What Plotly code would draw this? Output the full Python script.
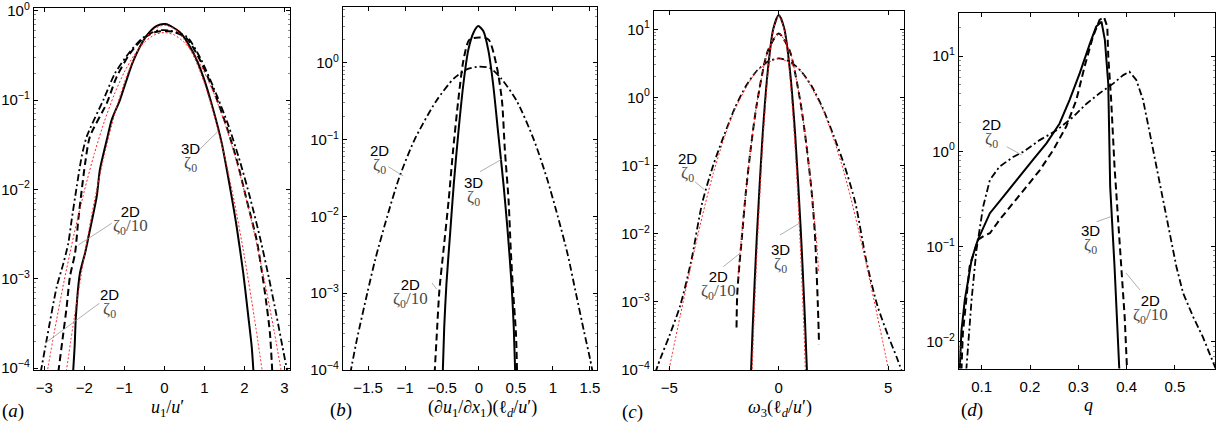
import plotly.graph_objects as go

W, H = 1217, 432

# ---------------- data ----------------
# panel (a): PDF of u1/u'
a_x_3d = [-2.28, -2.24, -2.21, -2.11, -1.98, -1.86, -1.69, -1.61, -1.44, -1.315, -1.11, -0.775, -0.44, -0.19, 0.03,
          0.39, 0.725, 0.975, 1.225, 1.435, 1.64, 1.81, 1.975, 2.10, 2.185, 2.23]
a_y_3d = [9.0e-5, 1.8e-4, 3.8e-4, 1.15e-3, 1.95e-3, 3.5e-3, 8.3e-3, 1.66e-2, 3.55e-2, 6.0e-2, 0.100, 0.275, 0.525, 0.676, 0.708,
          0.575, 0.339, 0.182, 7.76e-2, 3.31e-2, 1.07e-2, 3.8e-3, 1.15e-3, 3.8e-4, 1.74e-4, 9.0e-5]
a_x_2d10 = [-2.65, -2.525, -2.44, -2.36, -2.23, -2.15, -2.065, -1.98, -1.86, -1.44, -1.19, -0.86, -0.525, -0.19, 0.225,
            0.56, 0.89, 1.225, 1.56, 1.81, 2.06, 2.31, 2.45, 2.56, 2.64, 2.70]
a_y_2d10 = [9.0e-5, 2.45e-4, 4.9e-4, 1.05e-3, 1.95e-3, 4.6e-3, 9.8e-3, 1.95e-2, 3.9e-2, 9.2e-2, 0.182, 0.331, 0.490, 0.582, 0.582,
            0.490, 0.282, 0.130, 5.0e-2, 2.14e-2, 7.6e-3, 2.7e-3, 1.12e-3, 5.0e-4, 2.5e-4, 9.0e-5]
a_x_2d = [-3.09, -2.94, -2.69, -2.525, -2.40, -2.315, -2.19, -2.065, -1.94, -1.525, -1.23, -0.86, -0.525, -0.19, 0.10,
          0.56, 0.90, 1.25, 1.60, 1.90, 2.15, 2.40, 2.62, 2.80, 2.95, 3.08]
a_y_2d = [9.0e-5, 2.1e-4, 8.1e-4, 1.48e-3, 2.5e-3, 4.6e-3, 1.07e-2, 2.34e-2, 3.9e-2, 0.100, 0.200, 0.347, 0.501, 0.596, 0.603,
          0.513, 0.295, 0.132, 5.25e-2, 2.0e-2, 7.9e-3, 2.8e-3, 1.0e-3, 4.0e-4, 1.78e-4, 9.0e-5]
a_x_fit1 = [-2.45, -2.25, -2.0, -1.75, -1.5, -1.25, -1.0, -0.75, -0.5, -0.25, 0.0, 0.25, 0.5, 0.75, 1.0, 1.25, 1.5, 1.75,
            2.0, 2.25, 2.45]
a_y_fit1 = [9.2e-5, 3.7e-4, 1.8e-3, 7.3e-3, 2.43e-2, 6.75e-2, 0.156, 0.299, 0.474, 0.627, 0.688, 0.627, 0.474, 0.299,
            0.156, 6.75e-2, 2.43e-2, 7.3e-3, 1.8e-3, 3.7e-4, 9.2e-5]
a_x_fit2 = [-2.95, -2.75, -2.5, -2.25, -2.0, -1.75, -1.5, -1.25, -1.0, -0.75, -0.5, -0.25, 0.0, 0.25, 0.5, 0.75, 1.0,
            1.25, 1.5, 1.75, 2.0, 2.25, 2.5, 2.75, 2.95]
a_y_fit2 = [7.9e-5, 2.54e-4, 9.7e-4, 3.25e-3, 9.6e-3, 2.51e-2, 5.74e-2, 0.1156, 0.2056, 0.321, 0.4416, 0.535, 0.57,
            0.535, 0.4416, 0.321, 0.2056, 0.1156, 5.74e-2, 2.51e-2, 9.6e-3, 3.25e-3, 9.7e-4, 2.54e-4, 7.9e-5]

# panel (b): PDF of (du1/dx1)(ld/u')
b_x_3d = [-0.49, -0.47, -0.44, -0.39, -0.34, -0.28, -0.21, -0.145, -0.07, -0.01, 0.06, 0.126, 0.19, 0.26, 0.33, 0.39,
          0.44, 0.47, 0.49]
b_y_3d = [9.0e-5, 3.6e-4, 1.32e-3, 6.0e-3, 2.69e-2, 0.120, 0.537, 1.46, 2.51, 3.0, 2.57, 1.46, 0.537, 0.120, 2.69e-2,
          6.0e-3, 1.32e-3, 3.6e-4, 9.0e-5]
b_x_2d10 = [-0.60, -0.57, -0.535, -0.48, -0.41, -0.35, -0.28, -0.21, -0.13, 0.0, 0.13, 0.24, 0.31, 0.35, 0.40, 0.43,
            0.46, 0.50, 0.515]
b_y_2d10 = [9.0e-5, 2.95e-4, 1.1e-3, 3.6e-3, 1.62e-2, 7.24e-2, 0.324, 1.08, 2.0, 2.14, 2.0, 0.891, 0.324, 7.24e-2,
            1.62e-2, 3.6e-3, 1.1e-3, 2.95e-4, 9.0e-5]
b_x_2d = [-1.74, -1.65, -1.51, -1.40, -1.24, -1.08, -0.87, -0.58, -0.335, -0.15, 0.0, 0.15, 0.296, 0.512, 0.741, 0.917,
          1.065, 1.20, 1.31, 1.42, 1.50, 1.54]
b_y_2d = [9.0e-5, 2.5e-4, 1.0e-3, 2.8e-3, 1.0e-2, 3.16e-2, 0.100, 0.316, 0.631, 0.832, 0.891, 0.851, 0.631, 0.316, 0.100,
          3.16e-2, 1.0e-2, 3.16e-3, 1.0e-3, 3.16e-4, 1.41e-4, 9.0e-5]

# panel (c): PDF of omega3 (ld/u')
c_x_3d = [-1.27, -1.2, -1.1, -1.0, -0.75, -0.5, -0.25, 0.0, 0.25, 0.5, 0.75, 1.0, 1.1, 1.2, 1.29]
c_y_3d = [9.0e-5, 3.6e-4, 2.0e-3, 9.5e-3, 0.247, 2.51, 10.2, 16.2, 10.3, 2.67, 0.282, 1.2e-2, 2.63e-3, 5.0e-4, 9.0e-5]
c_x_fit3d = [-1.22, -1.15, -1.0, -0.75, -0.5, -0.25, 0.0, 0.25, 0.5, 0.75, 1.0, 1.15, 1.22]
c_y_fit3d = [9.0e-5, 3.8e-4, 5.1e-3, 0.174, 2.16, 9.8, 16.2, 9.8, 2.16, 0.174, 5.1e-3, 3.8e-4, 9.0e-5]
c_x_2d10 = [-1.93, -1.90, -1.80, -1.70, -1.5, -1.25, -1.0, -0.5, 0.0, 0.5, 1.0, 1.25, 1.5, 1.65, 1.72, 1.78, 1.84]
c_y_2d10 = [4.2e-4, 1.26e-3, 3.5e-3, 7.9e-3, 4.2e-2, 0.215, 0.815, 4.83, 8.73, 4.83, 0.815, 0.215, 4.2e-2, 1.0e-2,
            3.16e-3, 1.0e-3, 2.4e-4]
c_x_fit2d10 = [-1.87, -1.75, -1.5, -1.25, -1.0, -0.5, 0.0, 0.5, 1.0, 1.25, 1.5, 1.75, 1.82]
c_y_fit2d10 = [2.19e-3, 6.1e-3, 4.2e-2, 0.215, 0.815, 4.83, 8.73, 4.83, 0.815, 0.215, 4.2e-2, 6.1e-3, 2.8e-3]
c_x_2d = [-5.65, -5.4, -5.0, -4.5, -4.0, -3.5, -3.0, -2.5, -2.0, -1.5, -1.0, -0.5, 0.0, 0.5, 1.0, 1.5, 2.0, 2.5, 3.0,
          3.5, 4.0, 4.5, 5.0, 5.4, 5.65]
c_y_2d = [9.0e-5, 1.5e-4, 3.16e-4, 8.9e-4, 3.98e-3, 2.82e-2, 0.100, 0.278, 0.708, 1.47, 2.47, 3.37, 3.74, 3.37, 2.47,
          1.47, 0.708, 0.278, 0.100, 2.82e-2, 3.98e-3, 8.9e-4, 3.16e-4, 1.5e-4, 9.0e-5]
c_x_fit2d = [-5.05, -4.5, -4.0, -3.5, -3.0, -2.5, -2.0, -1.0, 0.0, 1.0, 2.0, 2.5, 3.0, 3.5, 4.0, 4.5, 5.05]
c_y_fit2d = [8.9e-5, 6.3e-4, 3.55e-3, 1.78e-2, 7.59e-2, 0.251, 0.676, 2.45, 3.74, 2.45, 0.676, 0.251, 7.59e-2, 1.78e-2,
             3.55e-3, 6.3e-4, 8.9e-5]

# panel (d): PDF of q
d_x_3d = [0.0545, 0.058, 0.065, 0.079, 0.092, 0.117, 0.144, 0.172, 0.206, 0.234, 0.261, 0.282, 0.303, 0.324, 0.337,
          0.348, 0.355, 0.362, 0.366, 0.375, 0.382, 0.385]
d_y_3d = [5.0e-3, 1.3e-2, 2.75e-2, 7.24e-2, 0.1175, 0.224, 0.331, 0.501, 0.813, 1.21, 1.95, 3.47, 6.61, 13.5, 20.4,
          22.9, 14.8, 5.13, 0.427, 6.17e-2, 1.23e-2, 5.0e-3]
d_x_2d10 = [0.058, 0.061, 0.075, 0.092, 0.105, 0.117, 0.137, 0.165, 0.193, 0.22, 0.248, 0.275, 0.296, 0.313, 0.33,
            0.344, 0.353, 0.36, 0.362, 0.368, 0.375, 0.382, 0.389, 0.396, 0.401]
d_y_2d10 = [5.0e-3, 1.23e-2, 6.17e-2, 0.1175, 0.13, 0.138, 0.191, 0.282, 0.427, 0.631, 1.03, 1.82, 3.47, 7.76, 15.8,
            24.0, 25.7, 20.4, 10.0, 3.47, 0.692, 0.204, 6.17e-2, 1.82e-2, 5.0e-3]
d_x_2d = [0.068, 0.079, 0.089, 0.103, 0.117, 0.137, 0.165, 0.186, 0.22, 0.255, 0.289, 0.317, 0.344, 0.372, 0.393,
          0.406, 0.42, 0.434, 0.448, 0.462, 0.475, 0.489, 0.503, 0.517, 0.538, 0.558, 0.572, 0.586]
d_y_2d = [5.0e-3, 2.75e-2, 9.12e-2, 0.263, 0.501, 0.692, 0.871, 0.989, 1.31, 1.66, 2.29, 3.16, 4.07, 5.13, 6.31, 6.84,
          5.62, 3.47, 1.55, 0.692, 0.309, 0.138, 6.17e-2, 3.24e-2, 1.82e-2, 1.12e-2, 7.6e-3, 5.0e-3]

# tick values / labels
a_xticks = [-3, -2, -1, 0, 1, 2, 3]
b_xticks = [-1.5, -1, -0.5, 0, 0.5, 1, 1.5]
c_xticks = [-5, 0, 5]
d_xticks = [0.1, 0.2, 0.3, 0.4, 0.5]
a_ydec = [-4, -3, -2, -1, 0]
b_ydec = [-4, -3, -2, -1, 0]
c_ydec = [-4, -3, -2, -1, 0, 1]
d_ydec = [-2, -1, 0, 1]

# ---------------- styling ----------------
SANS = "Liberation Sans, Arial, Helvetica, sans-serif"
SERIF = "Liberation Serif, Times New Roman, serif"
SOLID = dict(color="black", width=2.0, dash="solid")
DASH = dict(color="black", width=2.0, dash="7px,4px")
DASHDOT = dict(color="black", width=1.8, dash="7px,3px,2px,3px")
RED = dict(color="#ff2020", width=1.0, dash="2px,2px")

# pixel geometry of the four plot boxes (left, right, top, bottom)
boxes = [(34, 290, 8, 370), (343, 597, 7.3, 370), (654, 904, 10.7, 370), (959, 1215, 12.7, 368.5)]
xranges = [[-3.2575, 3.1425], [-1.838, 1.595], [-5.70, 5.72], [0.053, 0.583]]
yranges = [[-4.02, 0.03], [-4.0, 0.722], [-4.0, 1.274], [-2.28, 1.455]]
xticks = [a_xticks, b_xticks, c_xticks, d_xticks]
ydecs = [a_ydec, b_ydec, c_ydec, d_ydec]

fig = go.Figure()


def add(i, x, y, line, shape="spline"):
    sfx = "" if i == 0 else str(i + 1)
    ln = dict(**line, shape=shape)
    if shape == "spline":
        ln["smoothing"] = 0.7
    fig.add_trace(go.Scatter(x=x, y=y, mode="lines", line=ln,
                             xaxis="x" + sfx, yaxis="y" + sfx, hoverinfo="skip", showlegend=False))


# panel a
add(0, a_x_2d, a_y_2d, DASHDOT)
add(0, a_x_2d10, a_y_2d10, DASH)
add(0, a_x_3d, a_y_3d, SOLID)
add(0, a_x_fit1, a_y_fit1, RED)
add(0, a_x_fit2, a_y_fit2, RED)
# panel b
add(1, b_x_2d, b_y_2d, DASHDOT)
add(1, b_x_2d10, b_y_2d10, DASH)
add(1, b_x_3d, b_y_3d, SOLID)
# panel c
add(2, c_x_2d, c_y_2d, DASHDOT)
add(2, c_x_2d10, c_y_2d10, DASH)
add(2, c_x_3d, c_y_3d, SOLID)
add(2, c_x_fit2d, c_y_fit2d, RED)
add(2, c_x_fit2d10, c_y_fit2d10, RED)
add(2, c_x_fit3d, c_y_fit3d, RED)
# panel d
add(3, d_x_2d, d_y_2d, DASHDOT, shape="linear")
add(3, d_x_2d10, d_y_2d10, DASH, shape="linear")
add(3, d_x_3d, d_y_3d, SOLID, shape="linear")

layout = dict(width=W, height=H, margin=dict(l=0, r=0, t=0, b=0, pad=0), template="none",
              showlegend=False, plot_bgcolor="white", paper_bgcolor="white", hovermode=False)


def exp_label(d):
    s = ("\u2212%d" % -d) if d < 0 else str(d)
    return '10<sup style="font-size:85%%">%s</sup>' % s


for i in range(4):
    l, r, t, b = boxes[i]
    sfx = "" if i == 0 else str(i + 1)
    layout["xaxis" + sfx] = dict(
        domain=[l / W, r / W], range=xranges[i], anchor="y" + sfx, tickmode="array", tickvals=xticks[i],
        ticks="inside", ticklen=4, tickwidth=1, tickcolor="black", showline=True, linecolor="black",
        linewidth=1.2, mirror="ticks", showgrid=False, zeroline=False, automargin=False,
        ticklabelstandoff=4, ticklabeloverflow="allow",
        tickfont=dict(family=SANS, size=15, color="black"))
    decs = ydecs[i]
    minor_vals = [m * 10 ** d for d in range(decs[0] - 1, decs[-1] + 1) for m in range(2, 10)]
    layout["yaxis" + sfx] = dict(
        domain=[1 - b / H, 1 - t / H], type="log", range=yranges[i], anchor="x" + sfx, tickmode="array",
        tickvals=[10.0 ** d for d in decs], ticktext=[exp_label(d) for d in decs],
        ticks="inside", ticklen=4, tickwidth=1, tickcolor="black", showline=True, linecolor="black",
        linewidth=1.2, mirror="ticks", showgrid=False, zeroline=False, automargin=False,
        ticklabeloverflow="allow",
        tickfont=dict(family=SANS, size=15, color="black"),
        minor=dict(ticks="inside", ticklen=2, tickwidth=0.7, tickcolor="#555", tickmode="array",
                   tickvals=minor_vals, showgrid=False))

fig.update_layout(**layout)

ann = []
shapes = []


def text(cx, cy, s, fam, size, color="black"):
    ann.append(dict(x=cx / W, y=1 - cy / H, xref="paper", yref="paper", text=s, showarrow=False,
                    xanchor="center", yanchor="middle", font=dict(family=fam, size=size, color=color)))


def leader(tail, head):
    shapes.append(dict(type="line", xref="paper", yref="paper", x0=tail[0] / W, y0=1 - tail[1] / H,
                       x1=head[0] / W, y1=1 - head[1] / H, line=dict(color="#9a9a9a", width=0.8)))


GRAY = "#4a4a4a"


def case_label(top, bottom):
    return ('<span style="font-family:Liberation Sans, Arial, sans-serif;font-size:15px;color:black">%s</span><br>'
            '<span style="font-family:Liberation Serif, serif;font-size:17px;color:%s">%s</span>' % (top, GRAY, bottom))


Z0 = "\u03b6<sub>0</sub>"
Z010 = "\u03b6<sub>0</sub>/10"

labels = [
    # (centre x, centre y, top line, bottom line, leader tail, leader head)
    # panel a
    (190, 158, "3D", Z0, (199, 150), (218.3, 131)),
    (130, 220, "2D", Z010, (111.7, 223.3), (78.3, 245)),
    (109, 303, "2D", Z0, (99.3, 303.3), (45, 343.3)),
    # panel b
    (379, 159, "2D", Z0, (388.3, 166.7), (403.3, 176)),
    (473.5, 191, "3D", Z0, (480, 171.7), (501.7, 159.3)),
    (410, 293, "2D", Z010, (432, 283), (436.5, 289)),
    # panel c
    (687, 168, "2D", Z0, (695, 181.7), (704, 189.3)),
    (780, 258, "3D", Z0, (780, 235), (799.3, 223.3)),
    (718, 285, "2D", Z010, (723.3, 266.7), (740, 253.3)),
    # panel d
    (991, 133, "2D", Z0, (1006.7, 146.7), (1021.7, 155)),
    (1090, 239.5, "3D", Z0, (1096.7, 221.7), (1110.7, 216.7)),
    (1150, 309, "2D", Z010, (1140, 290), (1126, 273)),
]
for (cx, cy, s1, s2, tail, head) in labels:
    leader(tail, head)
    text(cx, cy, case_label(s1, s2), SANS, 11)

# axis titles
text(167, 408, "<i>u</i><sub>1</sub>/<i>u</i>\u2032", SERIF, 18)
text(482, 408, "(\u2202<i>u</i><sub>1</sub>/\u2202<i>x</i><sub>1</sub>)(\u2113<sub><i>d</i></sub>/<i>u</i>\u2032)", SERIF, 18)
text(780, 408, "<i>\u03c9</i><sub>3</sub>(\u2113<sub><i>d</i></sub>/<i>u</i>\u2032)", SERIF, 18)
text(1088, 405, "<i>q</i>", SERIF, 18)
# panel letters
text(12.5, 411, "(<i>a</i>)", SERIF, 19)
text(341, 410, "(<i>b</i>)", SERIF, 19)
text(632, 412, "(<i>c</i>)", SERIF, 19)
text(972, 410, "(<i>d</i>)", SERIF, 19)

fig.update_layout(annotations=ann, shapes=shapes)
fig.write_html("out.html", config={"displayModeBar": False, "staticPlot": True})
